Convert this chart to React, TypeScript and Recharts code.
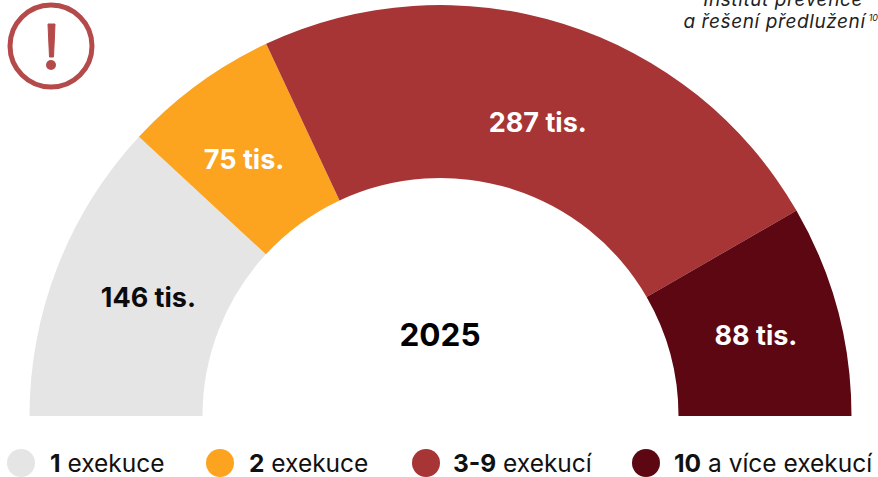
import React from "react";
import { PieChart, Pie, Cell, Legend } from "recharts";

const categoryBold = ["1", "2", "3-9", "10"];
const categoryRest = ["exekuce", "exekuce", "exekucí", "a více exekucí"];
const sliceLabels = ["146 tis.", "75 tis.", "287 tis.", "88 tis."];
const labelColors = ["#0b0b0b", "#ffffff", "#ffffff", "#ffffff"];
const sliceDegrees = [42.8, 22.1, 85.1, 30.0];
const colors = ["#e5e5e5", "#fca41f", "#a73535", "#5c0711"];
const source = ["Institut prevence", "a řešení předlužení"];

const data = categoryBold.map((b, i) => ({ name: `${b} ${categoryRest[i]}`, value: sliceDegrees[i] }));
const font = "Inter, 'Open Sans', sans-serif";
const RAD = Math.PI / 180;
const labelNudge = [[10, 0], [-5, 6], [0, 16], [2, 3]];
const legendLefts = [7, 206, 412, 632];
const legendGaps = [15, 15, 13, 14];

const renderLabel = (p: any) => {
  const r = (p.innerRadius + p.outerRadius) / 2;
  const [dx, dy] = labelNudge[p.index];
  const x = p.cx + r * Math.cos(-p.midAngle * RAD) + dx;
  const y = p.cy + r * Math.sin(-p.midAngle * RAD) + dy;
  return (
    <text x={x} y={y} textAnchor="middle" dominantBaseline="central" fill={labelColors[p.index]}
      style={{ fontFamily: font, fontWeight: 700, fontSize: 27 }}>
      {sliceLabels[p.index]}
    </text>
  );
};

const LegendContent = () => (
  <div style={{ position: "relative", width: 878, height: 40, fontFamily: font, fontSize: 24.5, color: "#111" }}>
    {categoryBold.map((b, i) => (
      <div key={b} style={{ position: "absolute", left: legendLefts[i], top: 0, display: "flex", alignItems: "center", height: 40, whiteSpace: "nowrap" }}>
        <span style={{ width: 28, height: 28, borderRadius: 14, background: colors[i], marginRight: legendGaps[i] }} />
        <span><b>{b}</b> {categoryRest[i]}</span>
      </div>
    ))}
  </div>
);

export default function App() {
  return (
    <div style={{ position: "absolute", left: 0, top: 0, width: 878, height: 477, overflow: "hidden", background: "#fff" }}>
      <PieChart width={878} height={477} margin={{ top: 0, right: 0, bottom: 0, left: 0 }}>
        <Pie data={data} dataKey="value" cx={440.5} cy={416} startAngle={180} endAngle={0}
          innerRadius={238} outerRadius={411} stroke="none" label={renderLabel} labelLine={false}
          isAnimationActive={false}>
          {data.map((d, i) => <Cell key={d.name} fill={colors[i]} />)}
        </Pie>
        <Legend content={<LegendContent />} layout="horizontal" verticalAlign="bottom"
          wrapperStyle={{ left: 0, top: 443, width: 878, height: 40 }} />
      </PieChart>
      <div style={{ position: "absolute", left: 340, top: 315, width: 200, textAlign: "center", fontFamily: font, fontWeight: 700, fontSize: 31.5, color: "#000" }}>2025</div>
      <svg width={100} height={92} style={{ position: "absolute", left: 0, top: 0 }}>
        <circle cx={51} cy={46} r={41} fill="none" stroke="#b44a4a" strokeWidth={5} />
        <path d="M48 24 L55 24 L53.5 57 L49.5 57 Z" fill="#b44a4a" stroke="#b44a4a" strokeWidth={1} strokeLinejoin="round" />
        <circle cx={51} cy={65} r={5} fill="#b44a4a" />
      </svg>
      <div style={{ position: "absolute", right: 0, top: -11, textAlign: "right", fontFamily: font, fontStyle: "italic", fontSize: 19, letterSpacing: 0.6, lineHeight: "22px", color: "#222", whiteSpace: "nowrap" }}>
        <div style={{ paddingRight: 15 }}>{source[0]}</div>
        <div>{source[1]}<sup style={{ fontSize: 9, lineHeight: 0, marginLeft: 3, letterSpacing: 0 }}>10</sup></div>
      </div>
    </div>
  );
}
